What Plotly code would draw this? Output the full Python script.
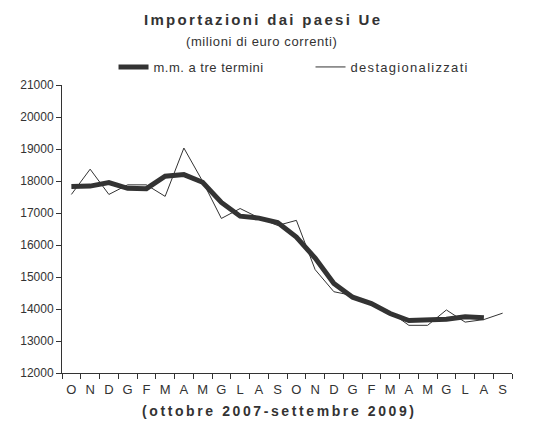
import plotly.graph_objects as go

months = ["O", "N", "D", "G", "F", "M", "A", "M", "G", "L", "A", "S",
          "O", "N", "D", "G", "F", "M", "A", "M", "G", "L", "A", "S"]

destagionalizzati = [17580, 18370, 17580, 17880, 17880, 17520, 19030, 17990,
                     16830, 17140, 16850, 16610, 16770, 15230, 14540, 14420,
                     14120, 13910, 13490, 13490, 13970, 13590, 13670, 13870]

media_mobile = [17830, 17840, 17950, 17770, 17760, 18150, 18200, 17960,
                17330, 16900, 16840, 16700, 16250, 15590, 14800, 14370,
                14170, 13860, 13640, 13650, 13680, 13760, 13730]

FONT = "Liberation Sans, Arial, sans-serif"
TXT = "#333333"


def spaced(text, px):
    return '<span style="letter-spacing:%spx">%s</span>' % (px, text)


x_all = list(range(len(months)))

fig = go.Figure()
fig.add_trace(go.Scatter(
    x=x_all, y=destagionalizzati, mode="lines",
    name=spaced("destagionalizzati", 1.3),
    line=dict(color="#333333", width=1), legendrank=2))
fig.add_trace(go.Scatter(
    x=x_all[:len(media_mobile)], y=media_mobile, mode="lines",
    name=spaced("m.m. a tre termini", 0.5),
    line=dict(color="#333333", width=5), legendrank=1))

fig.update_layout(
    width=542, height=418,
    margin=dict(l=54, r=38, t=77, b=53),
    paper_bgcolor="white", plot_bgcolor="white",
    font=dict(family=FONT, size=12, color=TXT),
    showlegend=True,
    legend=dict(orientation="h", x=0.1145, xanchor="left", y=1.0625,
                yanchor="middle", entrywidth=152, entrywidthmode="pixels",
                font=dict(size=13, color=TXT), bgcolor="rgba(0,0,0,0)",
                itemwidth=30),
    xaxis=dict(range=[-0.5, 23.5], tickmode="array", tickvals=x_all,
               ticktext=months, ticks="", showline=True, linecolor="#333333",
               linewidth=1, showgrid=False, zeroline=False,
               ticklabelstandoff=4,
               tickfont=dict(size=13, color=TXT),
               minor=dict(ticks="outside", ticklen=5, tickcolor="#333333",
                          tick0=-0.5, dtick=1, showgrid=False)),
    yaxis=dict(range=[12000, 21000], dtick=1000, tick0=12000, ticks="outside",
               tickformat="d",
               ticklen=5, tickcolor="#333333", showline=True,
               linecolor="#333333", linewidth=1, showgrid=False,
               zeroline=False, tickfont=dict(size=12, color=TXT)),
    annotations=[
        dict(text="<b>" + spaced("Importazioni dai paesi Ue", 2.3) + "</b>",
             xref="paper", yref="paper", x=0.447, y=1.229, showarrow=False,
             font=dict(size=15, color=TXT, family=FONT),
             xanchor="center", yanchor="middle"),
        dict(text=spaced("(milioni di euro correnti)", 0.6), xref="paper",
             yref="paper", x=0.443, y=1.151, showarrow=False,
             font=dict(size=13, color=TXT, family=FONT),
             xanchor="center", yanchor="middle"),
        dict(text="<b>" + spaced("(ottobre 2007-settembre 2009)", 2.6) + "</b>",
             xref="paper", yref="paper", x=0.484, y=-0.1319, showarrow=False,
             font=dict(size=14, color=TXT, family=FONT),
             xanchor="center", yanchor="middle"),
    ],
)

fig.write_html("out.html")
